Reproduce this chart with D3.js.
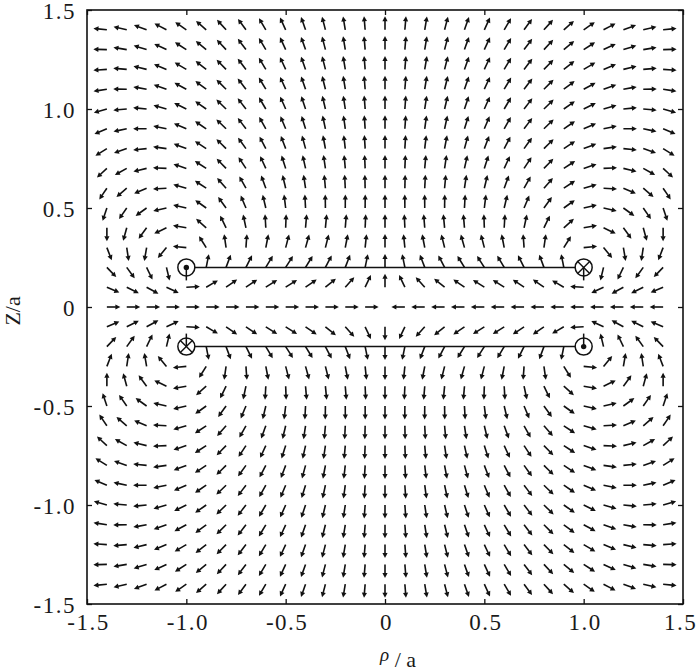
<!DOCTYPE html>
<html lang="en">
	<head>
		<meta charset="utf-8">
		<title>Field of two coaxial loops</title>
		<script type="text/javascript" src="https://d3js.org/d3.v7.min.js"></script>
		<style type="text/css">
			body {
				margin: 0;
				background-color: #ffffff;
				font-family: "Liberation Serif", "Times New Roman", Times, serif;
			}
			.tick text {
				font-family: "Liberation Serif", "Times New Roman", Times, serif;
				font-size: 23px;
				letter-spacing: 1.5px;
				fill: #1a1a1a;
			}
			.title {
				font-family: "Liberation Serif", "Times New Roman", Times, serif;
				fill: #1a1a1a;
			}
		</style>
	</head>
	<body>
		<script type="text/javascript">

			//Width and height
			var w = 700;
			var h = 671;

			// Tick values and labels
			var rhoTicks = [-1.5, -1.0, -0.5, 0, 0.5, 1.0, 1.5];
			var zTicks = [-1.5, -1.0, -0.5, 0, 0.5, 1.0, 1.5];
			var tickLabels = ["-1.5", "-1.0", "-0.5", "0", "0.5", "1.0", "1.5"];

			// Sample points of the arrow grid (rho/a and z/a)
			var gridRho = [-1.4, -1.3, -1.2, -1.1, -1.0, -0.9, -0.8, -0.7, -0.6, -0.5, -0.4, -0.3, -0.2, -0.1, 0,
				0.1, 0.2, 0.3, 0.4, 0.5, 0.6, 0.7, 0.8, 0.9, 1.0, 1.1, 1.2, 1.3, 1.4];
			var gridZ = [-1.4, -1.3, -1.2, -1.1, -1.0, -0.9, -0.8, -0.7, -0.6, -0.5, -0.4, -0.3, -0.2, -0.1, 0,
				0.1, 0.2, 0.3, 0.4, 0.5, 0.6, 0.7, 0.8, 0.9, 1.0, 1.1, 1.2, 1.3, 1.4];

			// The two current loops (radius a), height and current sense
			var loopZ = [0.2, -0.2];
			var loopCurrent = [1, -1];

			// Wire cross-sections shown on the plane
			var wireRho = [-1.0, 1.0, -1.0, 1.0];
			var wireZ = [0.2, 0.2, -0.2, -0.2];
			var wireType = ["dot", "cross", "cross", "dot"];
			var wireStub = [-1, -1, 1, 1];   // short stroke down (-1) or up (1)

			//Scales
			var x = d3.scaleLinear().domain([-1.5, 1.5]).range([87, 683]);
			var y = d3.scaleLinear().domain([-1.5, 1.5]).range([604, 10]);

			//Create SVG element
			var svg = d3.select("body")
				.append("svg")
				.attr("width", w)
				.attr("height", h);

			// Biot-Savart field of the loops in the rho-z plane
			function field(r, z) {
				var br = 0, bz = 0, n = 2000, dphi = 2 * Math.PI / n;
				for (var k = 0; k < loopZ.length; k++) {
					var dz = z - loopZ[k];
					for (var i = 0; i < n; i++) {
						var phi = (i + 0.5) * dphi;
						var c = Math.cos(phi);
						var d2 = r * r - 2 * r * c + 1 + dz * dz;
						var d3v = d2 * Math.sqrt(d2);
						br += loopCurrent[k] * c * dz / d3v;
						bz += loopCurrent[k] * (1 - r * c) / d3v;
					}
				}
				return [br, bz];
			}

			function onWire(r, z) {
				for (var i = 0; i < wireRho.length; i++) {
					if (Math.abs(r - wireRho[i]) < 1e-9 && Math.abs(z - wireZ[i]) < 1e-9) return true;
				}
				return false;
			}

			var arrows = [];
			gridZ.forEach(function(zv) {
				gridRho.forEach(function(rv) {
					if (onWire(rv, zv)) return;
					var b = field(rv, zv);
					var m = Math.sqrt(b[0] * b[0] + b[1] * b[1]);
					if (m < 1e-6) return;
					arrows.push({ r: rv, z: zv, ux: b[0] / m, uy: -b[1] / m });
				});
			});

			var len = 13.5, headLen = 5, headW = 2.6;

			var ag = svg.append("g").attr("class", "arrows");

			ag.selectAll("line")
				.data(arrows)
				.enter()
				.append("line")
				.attr("x1", function(d) { return x(d.r); })
				.attr("y1", function(d) { return y(d.z); })
				.attr("x2", function(d) { return x(d.r) + d.ux * (len - headLen + 0.5); })
				.attr("y2", function(d) { return y(d.z) + d.uy * (len - headLen + 0.5); })
				.attr("stroke", "#111")
				.attr("stroke-width", 1.6);

			ag.selectAll("path")
				.data(arrows)
				.enter()
				.append("path")
				.attr("d", function(d) {
					var tx = x(d.r) + d.ux * len, ty = y(d.z) + d.uy * len;
					var bx = tx - d.ux * headLen, by = ty - d.uy * headLen;
					var px = -d.uy * headW, py = d.ux * headW;
					return "M" + tx + "," + ty + "L" + (bx + px) + "," + (by + py) +
						"L" + (bx - px) + "," + (by - py) + "Z";
				})
				.attr("fill", "#111");

			// Lines joining the two sides of each loop
			var rad = 8.5;
			var lg = svg.append("g").attr("class", "loops");
			loopZ.forEach(function(zv) {
				lg.append("line")
					.attr("x1", x(-1.0) + rad).attr("x2", x(1.0) - rad)
					.attr("y1", y(zv)).attr("y2", y(zv))
					.attr("stroke", "#111")
					.attr("stroke-width", 1.5);
			});

			// Wire symbols
			wireRho.forEach(function(rv, i) {
				var cx = x(rv), cy = y(wireZ[i]);
				var g = lg.append("g");
				g.append("circle")
					.attr("cx", cx).attr("cy", cy).attr("r", rad)
					.attr("fill", "#fff")
					.attr("stroke", "#111")
					.attr("stroke-width", 1.5);
				if (wireType[i] == "dot") {
					g.append("circle")
						.attr("cx", cx).attr("cy", cy).attr("r", 2.7)
						.attr("fill", "#111");
				} else {
					var q = rad * 0.707;
					g.append("path")
						.attr("d", "M" + (cx - q) + "," + (cy - q) + "L" + (cx + q) + "," + (cy + q) +
							"M" + (cx - q) + "," + (cy + q) + "L" + (cx + q) + "," + (cy - q))
						.attr("stroke", "#111")
						.attr("stroke-width", 1.4);
				}
				g.append("line")
					.attr("x1", cx).attr("x2", cx)
					.attr("y1", cy).attr("y2", cy - wireStub[i] * 13)
					.attr("stroke", "#111")
					.attr("stroke-width", 1.5);
			});

			// Axes with inward ticks
			svg.append("g")
				.attr("transform", "translate(0," + y(-1.5) + ")")
				.call(d3.axisBottom(x).tickValues(rhoTicks).tickSize(-5).tickPadding(10)
					.tickFormat(function(v) { return tickLabels[rhoTicks.indexOf(v)]; }))
				.call(function(g) { g.select(".domain").remove(); })
				.call(function(g) {
					g.selectAll(".tick text").attr("dx", function(d) { return d === 1.5 ? "-3px" : "1px"; });
				});

			svg.append("g")
				.attr("transform", "translate(0," + y(1.5) + ")")
				.call(d3.axisTop(x).tickValues(rhoTicks).tickSize(-5).tickFormat(""))
				.call(function(g) { g.select(".domain").remove(); });

			svg.append("g")
				.attr("transform", "translate(" + x(-1.5) + ",0)")
				.call(d3.axisLeft(y).tickValues(zTicks).tickSize(-5).tickPadding(11)
					.tickFormat(function(v) { return tickLabels[zTicks.indexOf(v)]; }))
				.call(function(g) { g.select(".domain").remove(); })
				.call(function(g) { g.selectAll(".tick text").attr("dy", "0.38em"); });

			svg.append("g")
				.attr("transform", "translate(" + x(1.5) + ",0)")
				.call(d3.axisRight(y).tickValues(zTicks).tickSize(-5).tickFormat(""))
				.call(function(g) { g.select(".domain").remove(); });

			svg.selectAll(".tick line").attr("stroke", "#111").attr("stroke-width", 1.3);

			// Frame
			svg.append("rect")
				.attr("x", x(-1.5)).attr("y", y(1.5))
				.attr("width", x(1.5) - x(-1.5))
				.attr("height", y(-1.5) - y(1.5))
				.attr("fill", "none")
				.attr("stroke", "#111")
				.attr("stroke-width", 1.6);

			// Axis titles
			var xt = svg.append("text")
				.attr("class", "title")
				.attr("x", 380).attr("y", 667)
				.attr("font-size", "22px");
			xt.append("tspan").attr("font-size", "19px").attr("font-style", "italic").attr("dy", -6).text("ρ");
			xt.append("tspan").attr("dy", 6).text(" / a");

			svg.append("text")
				.attr("class", "title")
				.attr("transform", "translate(20," + y(-0.02) + ") rotate(-90)")
				.attr("text-anchor", "middle")
				.attr("font-size", "22px")
				.text("Z/a");

		</script>
	</body>
</html>
